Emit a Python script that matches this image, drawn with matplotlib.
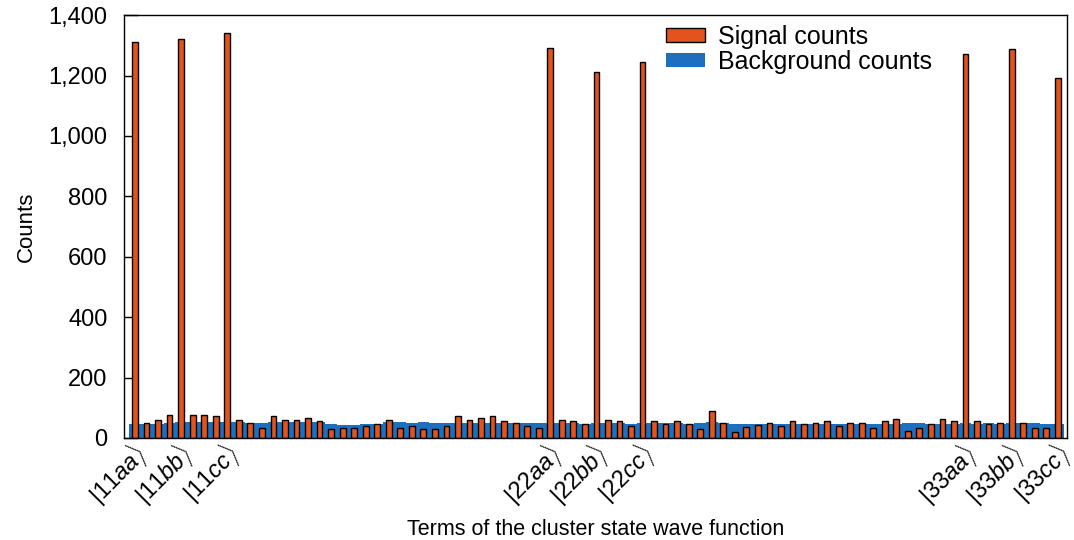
import matplotlib
matplotlib.use("Agg")
import matplotlib.pyplot as plt
import matplotlib.transforms as mtransforms
import numpy as np

plt.rcParams['font.family'] = ['Liberation Sans', 'DejaVu Sans']
plt.rcParams['mathtext.fontset'] = 'custom'
plt.rcParams['mathtext.rm'] = 'Liberation Sans'
plt.rcParams['mathtext.it'] = 'Liberation Sans:italic'

# 81 terms |ijkl>, signal and background counts
signal = [1310, 51, 61, 77, 1320, 77, 77, 72, 1342, 61,
          51, 34, 72, 61, 61, 66, 56, 29, 34, 34,
          40, 45, 61, 34, 40, 29, 29, 40, 72, 61,
          66, 72, 56, 51, 40, 34, 1290, 61, 56, 45,
          1213, 61, 56, 40, 1245, 56, 45, 56, 45, 31,
          88, 51, 20, 36, 42, 50, 39, 55, 45, 51,
          56, 40, 51, 51, 34, 56, 62, 22, 34, 45,
          62, 56, 1272, 56, 45, 51, 1288, 51, 34, 34,
          1192]
background = [45, 45, 46,
              50, 52, 53, 53, 52, 53, 52, 51, 50, 52, 53, 52, 53, 52,
              45, 44, 44, 45, 46,
              52, 53, 51, 52, 49,
              48, 48, 49, 48, 49, 48, 48, 49, 48,
              48, 49, 48, 47, 48, 49, 48, 47, 49, 48, 49, 48, 47, 48,
              52, 51, 46, 46, 45, 46, 46,
              46, 47, 46, 47, 46, 47, 46, 47, 46, 47, 48, 49, 47, 46,
              47, 48, 47, 48, 47, 48, 49, 48, 47, 46]
tick_pos = [0, 4, 8, 36, 40, 44, 72, 76, 80]
tick_labels = [r'$|11\mathit{aa}\rangle$', r'$|11\mathit{bb}\rangle$', r'$|11\mathit{cc}\rangle$',
               r'$|22\mathit{aa}\rangle$', r'$|22\mathit{bb}\rangle$', r'$|22\mathit{cc}\rangle$',
               r'$|33\mathit{aa}\rangle$', r'$|33\mathit{bb}\rangle$', r'$|33\mathit{cc}\rangle$']

x = np.arange(len(signal))

fig = plt.figure(figsize=(10.74, 5.4), dpi=100)
ax = fig.add_axes([0.1155, 0.189, 0.878, 0.783])

ax.bar(x, background, width=1.0, color='#1f6fbf', label='Background counts', zorder=1)
ax.bar(x, signal, width=0.5, color='#e4521e', edgecolor='black', linewidth=1.0,
       label='Signal counts', zorder=2)

ax.set_xlim(-0.95, 80.8)
ax.set_ylim(0, 1400)
ax.set_yticks(range(0, 1401, 200))
ax.set_yticklabels([f'{v:,}' for v in range(0, 1401, 200)], fontsize=17)
ax.tick_params(axis='y', direction='in', length=10, width=1, pad=12)
ax.set_xticks(tick_pos)
ax.set_xticklabels(tick_labels, rotation=45, ha='right', rotation_mode='anchor', fontsize=17)
ax.tick_params(axis='x', length=0, pad=0)
shift = mtransforms.ScaledTranslation(-0.05, 0, fig.dpi_scale_trans)
for lab in ax.get_xticklabels():
    lab.set_transform(lab.get_transform() + shift)

for s in ax.spines.values():
    s.set_linewidth(1.0)

ax.set_ylabel('Counts', fontsize=16, labelpad=8)
ax.set_xlabel('Terms of the cluster state wave function', fontsize=15.5, labelpad=6)

h, l = ax.get_legend_handles_labels()
ax.legend(h[::-1], l[::-1], loc='upper left', bbox_to_anchor=(0.575, 0.977), frameon=False,
          fontsize=18, handlelength=1.56, handleheight=0.5, handletextpad=0.5,
          labelspacing=0.05, borderpad=0, borderaxespad=0)

fig.savefig('out.png', dpi=100)
